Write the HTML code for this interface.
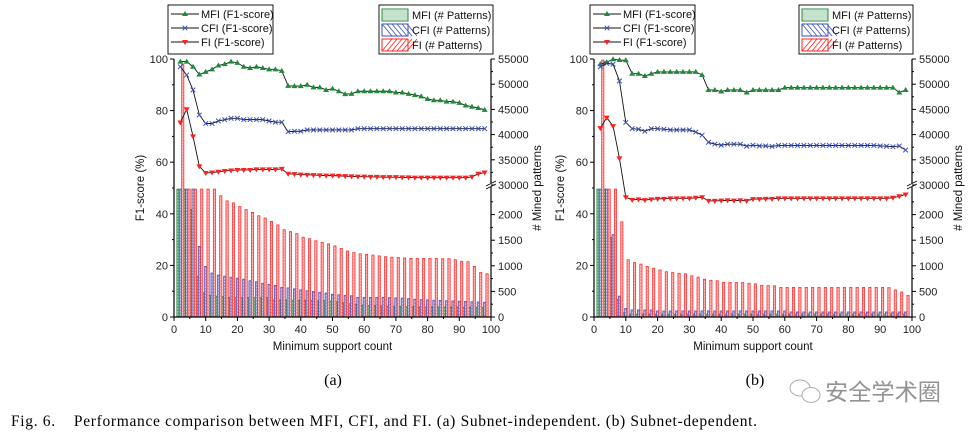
<!DOCTYPE html>
<html><head><meta charset="utf-8">
<style>
html,body{margin:0;padding:0;background:#fff;}
body{width:975px;height:436px;overflow:hidden;position:relative;}
svg{position:absolute;left:0;top:0;}
text{font-family:"Liberation Sans",sans-serif;}
.serif{font-family:"Liberation Serif",serif;}
</style></head>
<body>
<svg id="fig" width="975" height="436" viewBox="0 0 975 436">
<g id="chartA"></g>
<g id="chartB"></g>
<text class="serif" x="333" y="385" font-size="16" text-anchor="middle">(a)</text>
<text class="serif" x="755" y="385" font-size="16" text-anchor="middle">(b)</text>
<g opacity="0.7">
<ellipse cx="800" cy="388" rx="10" ry="8" fill="none" stroke="#888" stroke-width="1"/>
<ellipse cx="811" cy="395" rx="9" ry="7.5" fill="#fff" stroke="#888" stroke-width="1"/>
<text x="825" y="400" font-size="23" fill="#666" textLength="116" lengthAdjust="spacingAndGlyphs" style="font-family:'Liberation Sans','Noto Sans CJK SC',sans-serif">安全学术圈</text>
</g>
<text class="serif" x="11" y="426" font-size="15.5" textLength="746" lengthAdjust="spacing" xml:space="preserve">Fig. 6.    Performance comparison between MFI, CFI, and FI. (a) Subnet-independent. (b) Subnet-dependent.</text>
</svg>
<script>
const xs = [2,4,6,8,10,12,14,16,18,20,22,24,26,28,30,32,34,36,38,40,42,44,46,48,50,52,54,56,58,60,62,64,66,68,70,72,74,76,78,80,82,84,86,88,90,92,94,96,98];
const xTicks = [0,10,20,30,40,50,60,70,80,90,100];
const yTicks = [0,20,40,60,80,100];
const rTicksLow = [0,500,1000,1500,2000];
const rTicksHigh = [30000,35000,40000,45000,50000,55000];

// Chart A (subnet-independent)
const aMFI = [99,99,97,94,95,96,97.5,98,99,98.5,97,96.5,97,96.5,96,96,95.4,89.6,89.5,89.5,90,89,89,88,88.5,87.5,86.4,86.5,87.5,87.5,87.5,87.5,87.5,87.5,87,87,86.5,86,85.5,84.5,84,84,83.5,83.5,83,82,81.5,81,80.3];
const aCFI = [97,93.8,88,78.3,75,75,76,76.5,77,77,76.5,76.5,76.5,76.5,76,75.5,75.5,71.8,72,72,72.5,72.5,72.5,72.5,72.5,72.5,72.5,72.5,73,73,73,73,73,73,73,73,73,73,73,73,73,73,73,73,73,73,73,73,73];
const aFI = [75.4,80.5,70,58.4,55.8,56,56.3,56.6,56.8,57,57,57,57.2,57.2,57.2,57.2,57.4,55.5,55.4,55.2,55.1,55,54.9,54.8,54.8,54.7,54.6,54.5,54.4,54.4,54.3,54.3,54.2,54.2,54.2,54.1,54.1,54,54,54,54,54,54,54,54,54,54.3,55.5,56];
const aBarMFI = [2500,2500,2100,800,475,425,410,400,380,380,380,380,380,380,380,335,335,335,330,330,330,325,320,320,315,300,280,260,250,235,230,225,220,215,210,210,205,205,200,200,200,200,200,200,200,195,195,190,190];
const aBarCFI = [2500,2500,2500,1380,990,860,820,800,780,760,740,710,690,660,640,620,580,570,550,530,515,500,485,470,445,435,425,415,385,385,385,385,385,380,375,370,360,350,340,335,330,325,320,315,310,305,300,295,290];
const aBarFI = [54000,2500,2500,2500,2500,2500,2370,2270,2230,2160,2100,2045,1980,1935,1870,1800,1705,1670,1630,1560,1530,1490,1460,1430,1390,1340,1290,1260,1235,1225,1210,1195,1180,1170,1165,1155,1145,1145,1145,1145,1145,1140,1140,1120,1090,1080,990,870,845];

// Chart B (subnet-dependent)
const bMFI = [98,98.8,99.9,99.6,99.5,94.3,94.3,93.4,94.3,95,95,95,95,95,95,95,93.8,88,88,87.4,88,88,88,87,88,88,88,88,88,88.9,88.9,88.9,88.9,88.9,88.9,88.9,88.9,88.9,88.9,88.9,88.9,88.9,88.9,88.9,88.9,88.9,88.9,87,88];
const bCFI = [97,98.3,98,91.5,75.4,73,72.8,72,73,73,72.8,72.5,72.5,72.5,72.5,71.7,70.5,67.7,67,66.6,67,67,67,66.2,66.6,66.3,66.3,66.1,66.5,66.5,66.5,66.5,66.5,66.5,66.5,66.5,66.5,66.5,66.5,66.5,66.5,66.5,66.5,66.5,66.3,66.2,66,66.3,64.7];
const bFI = [73.2,77.3,74,61.5,46.4,45.4,45.6,45.3,45.6,45.8,45.8,46,46,46,46,46.2,46.4,45,45,45.1,45.2,45.1,45.2,45,45.7,45.7,45.8,45.8,46,46,46,46,46,46,46,46,46,46,46,46,46,46,46,46,46,46,46.2,46.8,47.5];
const bBarMFI = [2500,2500,1550,350,85,60,60,60,60,60,60,60,60,60,60,60,60,60,60,60,60,60,60,60,60,60,60,60,60,60,60,60,60,60,60,60,60,60,60,60,60,60,60,60,60,60,60,60,60];
const bBarCFI = [2500,2500,1610,410,170,140,140,140,140,120,120,120,120,120,120,120,120,120,120,120,120,120,120,120,120,120,120,120,120,120,100,100,100,100,100,100,100,100,100,100,100,100,100,100,100,100,100,100,100];
const bBarFI = [54800,2500,2500,1860,1120,1065,1035,990,955,920,885,870,855,845,805,780,740,720,710,680,675,675,675,660,650,620,615,610,580,580,580,580,580,580,580,580,580,580,580,580,580,580,580,580,580,575,530,490,425];

const NS = "http://www.w3.org/2000/svg";
function mk(parent, tag, attrs){
  const e = document.createElementNS(NS, tag);
  for (const k in attrs) e.setAttribute(k, attrs[k]);
  parent.appendChild(e);
  return e;
}

function drawChart(g, X0, X1, legL, legR, series, bars){
  const YT = 59, YB = 317, BRK = 185;
  const sx = v => X0 + (X1 - X0) * v / 100;
  const sy = v => YB - (YB - YT) * v / 100;
  const sp = v => v <= 2600 ? YB - Math.min(v, 2500) * 0.0512 : BRK - (v - 30000) * (126 / 25000);

  const barCols = [
    {fill:"#5fae6f", stroke:"#1f8a3a", off:-0.75},
    {fill:"#8e96d6", stroke:"#3a4fc0", off:0},
    {fill:"#ff8f8f", stroke:"#ff2020", off:0.75}
  ];
  bars.forEach((arr, si) => {
    const c = barCols[si];
    arr.forEach((v, i) => {
      const cx = sx(xs[i] + c.off);
      const top = sp(v);
      const r = mk(g, "rect", {x:(cx-1.2).toFixed(2), y:top.toFixed(2), width:2.4, height:(YB-top).toFixed(2), fill:c.fill, stroke:c.stroke, "stroke-width":0.6});
      
      
      mk(g, "line", {x1:cx, x2:cx, y1:top+2, y2:YB, stroke:"#fff", "stroke-width":0.5, "stroke-dasharray":"1.5,1.5"});
    });
  });

  const ax = mk(g, "path", {d:`M${X0},${YT} V${YB} H${X1} V${YT}`, fill:"none", stroke:"#000", "stroke-width":1.2});
  
  
  mk(g, "rect", {x:X1-1, y:BRK-2, width:3, height:4, fill:"#fff"});
  mk(g, "line", {x1:X1-5, y1:BRK+1, x2:X1+5, y2:BRK-4, stroke:"#000", "stroke-width":0.8});
  mk(g, "line", {x1:X1-5, y1:BRK+4, x2:X1+5, y2:BRK-1, stroke:"#000", "stroke-width":0.8});

  xTicks.forEach(t => {
    mk(g, "line", {x1:sx(t), x2:sx(t), y1:YB, y2:YB+4, stroke:"#000"});
    if (t < 100) mk(g, "line", {x1:sx(t+5), x2:sx(t+5), y1:YB, y2:YB+2, stroke:"#000"});
    const tx = mk(g, "text", {x:sx(t), y:YB+16, "font-size":11, "text-anchor":"middle", fill:"#222"});
    tx.textContent = t;
    
    
  });
  yTicks.forEach(t => {
    mk(g, "line", {x1:X0-4, x2:X0, y1:sy(t), y2:sy(t), stroke:"#000"});
    if (t < 100) mk(g, "line", {x1:X0-2, x2:X0, y1:sy(t+10), y2:sy(t+10), stroke:"#000"});
    const tx = mk(g, "text", {x:X0-6, y:sy(t)+4, "font-size":11, "text-anchor":"end", fill:"#222"});
    tx.textContent = t;
    
    
  });
  rTicksLow.forEach(t => {
    mk(g, "line", {x1:X1, x2:X1+4, y1:sp(t), y2:sp(t), stroke:"#000"});
    mk(g, "line", {x1:X1, x2:X1+2, y1:sp(t+250), y2:sp(t+250), stroke:"#000"});
    const tx = mk(g, "text", {x:X1+7, y:sp(t)+4, "font-size":11, fill:"#222"});
    tx.textContent = t;
    
    
  });
  rTicksHigh.forEach(t => {
    mk(g, "line", {x1:X1, x2:X1+4, y1:sp(t), y2:sp(t), stroke:"#000"});
    if (t < 55000) mk(g, "line", {x1:X1, x2:X1+2, y1:sp(t+2500), y2:sp(t+2500), stroke:"#000"});
    const tx = mk(g, "text", {x:X1+7, y:sp(t)+4, "font-size":11, fill:"#222"});
    tx.textContent = t;
    
    
  });
  const xt = mk(g, "text", {x:(X0+X1)/2, y:YB+33, "font-size":11.5, "text-anchor":"middle", fill:"#111"});
  xt.textContent = "Minimum support count";
  
  
  const yt = mk(g, "text", {x:0, y:0, "font-size":11.5, "text-anchor":"middle", fill:"#111", transform:`translate(${X0-30},188) rotate(-90)`});
  yt.textContent = "F1-score (%)";
  
  
  const rt = mk(g, "text", {x:0, y:0, "font-size":11.5, "text-anchor":"middle", fill:"#111", transform:`translate(${X1+50},188) rotate(-90)`});
  rt.textContent = "# Mined patterns";
  
  

  const lineCols = ["#1f8a3a", "#3a4fc0", "#ff2020"];
  function marker(parent, k, x, y){
    if (k === 0) mk(parent, "path", {d:`M${x},${y-3} L${x+3},${y+2} L${x-3},${y+2}Z`, fill:lineCols[0]});
    else if (k === 1) mk(parent, "path", {d:`M${x-2.3},${y-2.3} L${x+2.3},${y+2.3} M${x+2.3},${y-2.3} L${x-2.3},${y+2.3}`, stroke:lineCols[1], "stroke-width":1});
    else mk(parent, "path", {d:`M${x},${y+3} L${x+3},${y-2} L${x-3},${y-2}Z`, fill:lineCols[2]});
  }
  const names = ["mfi-f1-line","cfi-f1-line","fi-f1-line"];
  series.forEach((arr, k) => {
    const d = arr.map((v, i) => (i ? "L" : "M") + sx(xs[i]).toFixed(2) + "," + sy(v).toFixed(2)).join(" ");
    const p = mk(g, "path", {d, fill:"none", stroke:"#111", "stroke-width":0.9});
    
    
    arr.forEach((v, i) => marker(g, k, sx(xs[i]), sy(v)));
  });

  const lg = mk(g, "g", {});
  
  
  mk(lg, "rect", {x:legL, y:5, width:105, height:49, fill:"#fff", stroke:"#000", "stroke-width":0.9});
  const lab = ["MFI (F1-score)","CFI (F1-score)","FI (F1-score)"];
  [18,32,46].forEach((yy, k) => {
    mk(lg, "line", {x1:legL+3, x2:legL+31, y1:yy-4, y2:yy-4, stroke:"#111"});
    marker(lg, k, legL+17, yy-4);
    const t = mk(lg, "text", {x:legL+33, y:yy, "font-size":11, fill:"#111"});
    t.textContent = lab[k];
    
    
  });
  const bg = mk(g, "g", {});
  
  
  mk(bg, "rect", {x:legR, y:5, width:114, height:49, fill:"#fff", stroke:"#000", "stroke-width":0.9});
  const blab = ["MFI (# Patterns)","CFI (# Patterns)","FI (# Patterns)"];
  [9,24,39].forEach((yy, k) => {
    const c = barCols[k];
    mk(bg, "rect", {x:legR+3, y:yy, width:26, height:12, fill:"#fff", stroke:c.stroke, "stroke-width":1});
    for (let j = 0; j < 6; j++) {
      if (k === 0) { if (j < 5) mk(bg, "line", {x1:legR+3, x2:legR+29, y1:yy+2+j*2, y2:yy+2+j*2, stroke:c.stroke, "stroke-width":0.6}); }
      else if (k === 1) mk(bg, "line", {x1:legR+3+j*5, y1:yy, x2:legR+3+j*5+10, y2:yy+12, stroke:c.stroke, "stroke-width":0.8});
      else mk(bg, "line", {x1:legR+3+j*5, y1:yy+12, x2:legR+3+j*5+10, y2:yy, stroke:c.stroke, "stroke-width":0.8});
    }
    const t = mk(bg, "text", {x:legR+33, y:yy+10, "font-size":11, fill:"#111"});
    t.textContent = blab[k];
    
    
  });
}

drawChart(document.getElementById("chartA"), 174, 491, 168, 379, [aMFI, aCFI, aFI], [aBarMFI, aBarCFI, aBarFI]);
drawChart(document.getElementById("chartB"), 594, 912, 590, 799, [bMFI, bCFI, bFI], [bBarMFI, bBarCFI, bBarFI]);
</script>
</body></html>
